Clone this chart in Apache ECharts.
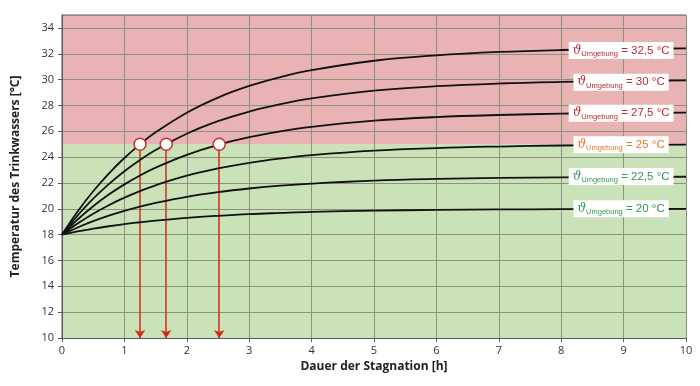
<!DOCTYPE html>
<html><head><meta charset="utf-8">
<script src="https://cdn.jsdelivr.net/npm/echarts@6/dist/echarts.min.js"></script>
<style>html,body{margin:0;padding:0;background:#fff}#c{width:700px;height:386px}</style>
</head><body><div id="c"></div>
<script>
// Dauer der Stagnation [h]
const times = [0,0.25,0.5,0.75,1,1.25,1.5,2,2.5,3,3.5,4,5,6,7,8,9,10];
// Temperatur des Trinkwassers [°C] per ambient temperature
const t325 = [18,19.79,21.36,22.73,23.93,24.99,25.92,27.44,28.61,29.51,30.20,30.73,31.46,31.88,32.14,32.29,32.37,32.42];
const t300 = [18,19.48,20.78,21.91,22.91,23.78,24.55,25.81,26.78,27.53,28.10,28.54,29.14,29.49,29.70,29.82,29.89,29.94];
const t275 = [18,19.17,20.20,21.10,21.89,22.58,23.19,24.18,24.95,25.54,25.99,26.34,26.82,27.10,27.26,27.36,27.42,27.45];
const t250 = [18,18.86,19.62,20.28,20.86,21.37,21.82,22.56,23.12,23.56,23.89,24.15,24.50,24.70,24.82,24.90,24.94,24.96];
const t225 = [18,18.55,19.04,19.47,19.84,20.17,20.46,20.93,21.29,21.57,21.79,21.95,22.18,22.31,22.39,22.43,22.46,22.48];
const t200 = [18,18.25,18.46,18.65,18.82,18.96,19.09,19.30,19.46,19.59,19.68,19.76,19.86,19.91,19.95,19.97,19.98,19.99];
// Label texts and their positions (x in h, y in °C)
const labelTexts = ['32,5','30','27,5','25','22,5','20'];
const labelX = 8.96;
const labelY = [32.25,29.8,27.4,24.95,22.5,20.0];
const labelColors = ['#c0282f','#c0282f','#c0282f','#e8772a','#2f9a52','#2f9a52'];
// Limit crossing (25 °C)
const limitTemp = 25;
const crossTimes = [1.25,1.67,2.52];
// Axis ranges / ticks
const xMin = 0, xMax = 10, xStep = 1, xMinor = 0.2;
const yMin = 10, yMax = 35, yStep = 2, yMinor = 0.5;

const curves = [t325,t300,t275,t250,t225,t200];
const chart = echarts.init(document.getElementById('c'));
const series = [];

series.push({
  type:'line', data:[[xMin,yMin]], symbol:'none', lineStyle:{opacity:0}, z:-1, silent:true,
  markArea:{silent:true, data:[
    [{coord:[xMin,limitTemp], itemStyle:{color:'#e9b3b3'}},{coord:[xMax,yMax]}],
    [{coord:[xMin,yMin], itemStyle:{color:'#cae2b8'}},{coord:[xMax,limitTemp]}]
  ]}
});

curves.forEach((c,i)=>{
  series.push({
    type:'line', data: times.map((t,j)=>[t,c[j]]), smooth:0.4, symbol:'none',
    lineStyle:{color:'#111', width:1.8}, z:5
  });
});

series.push({
  type:'line', data:[], z:6,
  markLine:{silent:true, symbol:['none','arrow'], symbolSize:8,
    label:{show:false}, lineStyle:{color:'#d42a1e', width:1.5, type:'solid'},
    emphasis:{disabled:true},
    data: crossTimes.map(t=>[{coord:[t,limitTemp]},{coord:[t,yMin]}])
  }
});

series.push({
  type:'scatter', data: crossTimes.map(t=>[t,limitTemp]), symbol:'circle', symbolSize:12,
  itemStyle:{color:'#fff', borderColor:'#c8342a', borderWidth:1.5, opacity:1}, z:8
});

labelTexts.forEach((txt,i)=>{
  const col = labelColors[i];
  series.push({
    type:'scatter', data:[[labelX,labelY[i]]], symbolSize:0, z:20, silent:true,
    itemStyle:{opacity:1},
    label:{show:true, position:'inside',
      formatter: '{th|ϑ}{sub|Umgebung}{v| = ' + txt + ' °C}',
      backgroundColor:'#ffffff', padding:[1,4,1,4],
      rich:{
        th:{fontFamily:'DejaVu Serif', fontStyle:'italic', fontSize:12, color:col, lineHeight:15},
        sub:{fontFamily:'Liberation Sans', fontSize:7.5, color:col, lineHeight:15, verticalAlign:'bottom'},
        v:{fontFamily:'Liberation Sans', fontSize:11.5, color:col, lineHeight:15}
      }
    }
  });
});

chart.setOption({
  animation:false,
  grid:{left:62, right:14, top:15, bottom:48, show:true, borderColor:'#5a5a5a', borderWidth:1, backgroundColor:'transparent'},
  xAxis:[
    {type:'value', min:xMin, max:xMax, interval:xStep, z:2,
      name:'Dauer der Stagnation [h]', nameLocation:'middle', nameGap:23,
      nameTextStyle:{fontFamily:'Open Sans', fontWeight:'bold', fontSize:12, color:'#222'},
      axisLine:{show:true, lineStyle:{color:'#5a5a5a'}},
      axisTick:{show:true, length:4, lineStyle:{color:'#5a5a5a'}},
      axisLabel:{fontFamily:'Open Sans', fontSize:11, color:'#333', margin:7},
      splitLine:{show:true, lineStyle:{color:'#8c927e', width:1}}
    },
    {type:'value', min:xMin, max:xMax, interval:xMinor, z:1, position:'bottom',
      axisLine:{show:false}, axisTick:{show:false}, axisLabel:{show:false},
      splitLine:{show:true, lineStyle:{color:'rgba(150,150,135,0.28)', width:1}}
    }
  ],
  yAxis:[
    {type:'value', min:yMin, max:yMax, interval:yStep, z:2,
      name:'Temperatur des Trinkwassers [°C]', nameLocation:'middle', nameGap:40,
      nameTextStyle:{fontFamily:'Open Sans', fontWeight:'bold', fontSize:12, color:'#222'},
      axisLine:{show:true, lineStyle:{color:'#5a5a5a'}},
      axisTick:{show:true, length:4, lineStyle:{color:'#5a5a5a'}},
      axisLabel:{fontFamily:'Open Sans', fontSize:11, color:'#333', margin:8, showMaxLabel:false},
      splitLine:{show:true, lineStyle:{color:'#8c927e', width:1}}
    },
    {type:'value', min:yMin, max:yMax, interval:yMinor, z:1, position:'left',
      axisLine:{show:false}, axisTick:{show:false}, axisLabel:{show:false},
      splitLine:{show:true, lineStyle:{color:'rgba(150,150,135,0.28)', width:1}}
    }
  ],
  series: series
});
</script>
</body></html>
